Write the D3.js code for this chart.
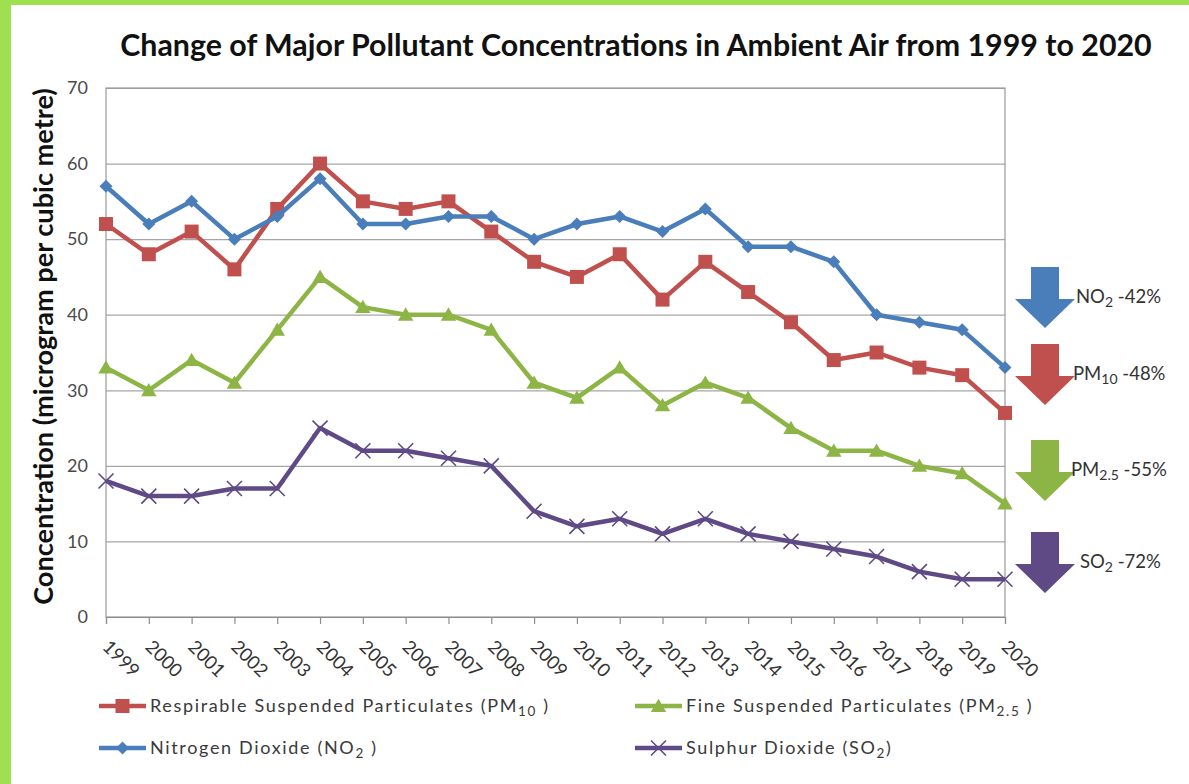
<!DOCTYPE html>
<html>
<head>
<meta charset="utf-8">
<script src="https://cdn.jsdelivr.net/npm/d3@7"></script>
<style>
  html, body { margin: 0; padding: 0; background: #fff; }
  svg { display: block; font-family: Lato, "Open Sans", sans-serif; }
</style>
</head>
<body>
<svg id="chart" width="1189" height="784"></svg>
<script>
// Annual average concentrations (µg/m³), 1999–2020
const years = ["1999","2000","2001","2002","2003","2004","2005","2006","2007","2008","2009",
               "2010","2011","2012","2013","2014","2015","2016","2017","2018","2019","2020"];
const pm10Values = [52, 48, 51, 46, 54, 60, 55, 54, 55, 51, 47, 45, 48, 42, 47, 43, 39, 34, 35, 33, 32, 27];
const pm25Values = [33, 30, 34, 31, 38, 45, 41, 40, 40, 38, 31, 29, 33, 28, 31, 29, 25, 22, 22, 20, 19, 15];
const no2Values  = [57, 52, 55, 50, 53, 58, 52, 52, 53, 53, 50, 52, 53, 51, 54, 49, 49, 47, 40, 39, 38, 33];
const so2Values  = [18, 16, 16, 17, 17, 25, 22, 22, 21, 20, 14, 12, 13, 11, 13, 11, 10,  9,  8,  6,  5,  5];
const yTickValues = [0, 10, 20, 30, 40, 50, 60, 70];

const titleText = "Change of Major Pollutant Concentrations in Ambient Air from 1999 to 2020";
const yAxisTitle = "Concentration (microgram per cubic metre)";

// Series: legend name parts [main, subscript, tail], short label parts, colour, marker
const series = [
  { key: "pm10", values: pm10Values, color: "#c0504d", marker: "square",
    legend: ["Respirable Suspended Particulates (PM", "10", " )"], shortName: ["PM", "10"] },
  { key: "pm25", values: pm25Values, color: "#8db545", marker: "triangle",
    legend: ["Fine Suspended Particulates (PM", "2.5", "  )"], shortName: ["PM", "2.5"] },
  { key: "no2", values: no2Values, color: "#4a7ebb", marker: "diamond",
    legend: ["Nitrogen Dioxide (NO", "2", " )"], shortName: ["NO", "2"] },
  { key: "so2", values: so2Values, color: "#5f4a86", marker: "cross",
    legend: ["Sulphur Dioxide (SO", "2", ")"], shortName: ["SO", "2"] }
];

const svg = d3.select("#chart");

// frame: green strips on top and left
svg.append("rect").attr("x", 0).attr("y", 0).attr("width", 1189).attr("height", 784).attr("fill", "#fff");
svg.append("rect").attr("x", 0).attr("y", 0).attr("width", 1189).attr("height", 5).attr("fill", "#9ee050");
svg.append("rect").attr("x", 0).attr("y", 0).attr("width", 11).attr("height", 784).attr("fill", "#9ee050");

const plot = { left: 106, right: 1005, top: 88, bottom: 617 };

const x = d3.scalePoint().domain(years).range([plot.left, plot.right]);
const y = d3.scaleLinear().domain([0, 70]).range([plot.bottom, plot.top]);

// helper: shrink/grow a text's font so it spans a given width
function fitWidth(sel, target) {
  const node = sel.node();
  const fs = parseFloat(sel.attr("font-size"));
  const w = node.getComputedTextLength();
  sel.attr("font-size", (fs * target / w).toFixed(2));
}

// title
const title = svg.append("text")
  .attr("x", 636).attr("y", 56)
  .attr("text-anchor", "middle")
  .attr("font-size", 25).attr("font-weight", "bold").attr("fill", "#111")
  .text(titleText);
fitWidth(title, 1032);

// horizontal gridlines
svg.append("g")
  .attr("transform", `translate(${plot.left},0)`)
  .call(d3.axisLeft(y).tickValues(yTickValues).tickSize(-(plot.right - plot.left)).tickFormat(""))
  .call(g => g.select(".domain").remove())
  .call(g => g.selectAll("line").attr("stroke", "#a6a6a6").attr("stroke-width", 1.2));

// y tick labels
svg.append("g")
  .attr("transform", `translate(${plot.left},0)`)
  .call(d3.axisLeft(y).tickValues(yTickValues).tickSize(0).tickPadding(18))
  .call(g => g.select(".domain").remove())
  .call(g => g.selectAll("text").attr("font-size", 18).attr("fill", "#4a4a4a")
                .attr("font-family", "Lato, sans-serif"));

// plot border
svg.append("rect")
  .attr("x", plot.left).attr("y", plot.top)
  .attr("width", plot.right - plot.left).attr("height", plot.bottom - plot.top)
  .attr("fill", "none").attr("stroke", "#9a9a9a").attr("stroke-width", 1.2);

// x axis with ticks and rotated year labels
const xAxis = svg.append("g")
  .attr("transform", `translate(0,${plot.bottom})`)
  .call(d3.axisBottom(x).tickSize(7).tickPadding(0));
xAxis.select(".domain").attr("stroke", "#8c8c8c").attr("stroke-width", 1.2);
xAxis.selectAll("line").attr("stroke", "#8c8c8c").attr("stroke-width", 1.2);
xAxis.selectAll("text")
  .attr("font-size", 18.5).attr("fill", "#333").attr("font-family", "Lato, sans-serif")
  .attr("text-anchor", "start").attr("dy", 0)
  .attr("transform", "translate(-5,31) rotate(45)")
  .attr("y", 0).attr("x", 0);

// y axis title
const yTitle = svg.append("text")
  .attr("transform", `translate(53,${(88 + 605) / 2}) rotate(-90)`)
  .attr("text-anchor", "middle")
  .attr("font-size", 20).attr("font-weight", "bold").attr("fill", "#111")
  .text(yAxisTitle);
fitWidth(yTitle, 517);

// marker shapes
function markerPath(type, size) {
  const s = size / 2;
  if (type === "square") return `M${-s},${-s}H${s}V${s}H${-s}Z`;
  if (type === "diamond") return `M0,${-s}L${s},0L0,${s}L${-s},0Z`;
  if (type === "triangle") return `M0,${-s * 1.05}L${s * 1.1},${s * 0.85}L${-s * 1.1},${s * 0.85}Z`;
  return `M${-s},${-s}L${s},${s}M${-s},${s}L${s},${-s}`;
}
const markerSize = { square: 14, diamond: 13, triangle: 14, cross: 15 };

function drawMarker(g, type, color) {
  const p = g.append("path").attr("d", markerPath(type, markerSize[type]));
  if (type === "cross") p.attr("fill", "none").attr("stroke", color).attr("stroke-width", 1.6);
  else p.attr("fill", color);
}

const line = d3.line().x((d, i) => x(years[i])).y(d => y(d));

series.forEach(s => {
  const g = svg.append("g").attr("class", "series-" + s.key);
  g.append("path")
    .datum(s.values)
    .attr("d", line)
    .attr("fill", "none")
    .attr("stroke", s.color)
    .attr("stroke-width", 4.5)
    .attr("stroke-linejoin", "round");
  g.selectAll("g.pt")
    .data(s.values)
    .join("g")
    .attr("class", "pt")
    .attr("transform", (d, i) => `translate(${x(years[i])},${y(d)})`)
    .each(function () { drawMarker(d3.select(this), s.marker, s.color); });
});

// legend
const legendLayout = {
  pm10: { x: 99, y: 706 }, pm25: { x: 635, y: 706 },
  no2:  { x: 99, y: 748 }, so2:  { x: 635, y: 748 }
};
const legendTexts = [];
series.forEach(s => {
  const pos = legendLayout[s.key];
  const g = svg.append("g").attr("transform", `translate(${pos.x},${pos.y})`);
  g.append("line").attr("x1", 0).attr("x2", 47).attr("y1", 0).attr("y2", 0)
    .attr("stroke", s.color).attr("stroke-width", 4.5);
  const m = g.append("g").attr("transform", "translate(23.5,0)");
  drawMarker(m, s.marker, s.color);
  const t = g.append("text").attr("x", 51).attr("y", 6)
    .attr("font-size", 18).attr("fill", "#3a3a3a");
  t.append("tspan").text(s.legend[0]);
  t.append("tspan").attr("font-size", 13.5).attr("dy", 4).text(s.legend[1]);
  t.append("tspan").attr("dy", -4).text(s.legend[2]);
  legendTexts.push(t);
});
// widen letter spacing so the longest entry spans ~400px
{
  const t = legendTexts[0];
  const w = t.node().getComputedTextLength();
  const n = t.text().length;
  const ls = Math.max(0, (400 - w) / n);
  legendTexts.forEach(tt => tt.attr("letter-spacing", ls.toFixed(2)));
}

// decline arrows with percentage change from first to last year
const arrowLayout = {
  no2:  { top: 267, labelX: 1076 },
  pm10: { top: 344, labelX: 1073 },
  pm25: { top: 440, labelX: 1071 },
  so2:  { top: 532, labelX: 1080 }
};
const arrowCx = 1045, shaftW = 28, shaftH = 32, headW = 60, headH = 29;
["no2", "pm10", "pm25", "so2"].forEach(key => {
  const s = series.find(d => d.key === key);
  const a = arrowLayout[key];
  const first = s.values[0], last = s.values[s.values.length - 1];
  const pct = Math.round((last - first) / first * 100);
  const t0 = a.top;
  const path = `M${arrowCx - shaftW / 2},${t0}H${arrowCx + shaftW / 2}V${t0 + shaftH}` +
    `H${arrowCx + headW / 2}L${arrowCx},${t0 + shaftH + headH}L${arrowCx - headW / 2},${t0 + shaftH}` +
    `H${arrowCx - shaftW / 2}Z`;
  svg.append("path").attr("d", path).attr("fill", s.color);
  const t = svg.append("text").attr("x", a.labelX).attr("y", t0 + 36)
    .attr("font-size", 18.5).attr("fill", "#333");
  t.append("tspan").text(s.shortName[0]);
  t.append("tspan").attr("font-size", 14).attr("dy", 4).text(s.shortName[1]);
  t.append("tspan").attr("dy", -4).text(" " + pct + "%");
});
</script>
</body>
</html>
